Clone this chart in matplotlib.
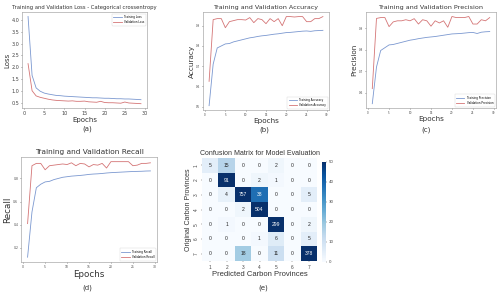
import numpy as np
import matplotlib
matplotlib.use("Agg")
import matplotlib.pyplot as plt
import seaborn as sns

# données
epochs = list(range(1, 30))

train_loss = [4.15, 1.65, 1.12, 0.98, 0.90, 0.86, 0.83, 0.80, 0.79, 0.77, 0.76, 0.75, 0.74, 0.73, 0.72,
              0.71, 0.70, 0.70, 0.69, 0.68, 0.68, 0.67, 0.66, 0.66, 0.65, 0.65, 0.64, 0.63, 0.62]
val_loss = [2.15, 1.00, 0.78, 0.72, 0.68, 0.64, 0.61, 0.59, 0.58, 0.57, 0.56, 0.57, 0.55, 0.55, 0.56,
            0.53, 0.52, 0.51, 0.55, 0.50, 0.49, 0.49, 0.48, 0.47, 0.52, 0.48, 0.47, 0.46, 0.45]

train_acc = [0.505, 0.71, 0.79, 0.80, 0.81, 0.812, 0.82, 0.825, 0.83, 0.835, 0.84, 0.843, 0.847, 0.85, 0.852,
             0.855, 0.858, 0.86, 0.863, 0.866, 0.867, 0.869, 0.871, 0.873, 0.874, 0.872, 0.875, 0.876, 0.877]
val_acc = [0.625, 0.93, 0.935, 0.935, 0.89, 0.92, 0.925, 0.93, 0.93, 0.928, 0.94, 0.915, 0.935, 0.93, 0.91,
           0.935, 0.92, 0.935, 0.90, 0.945, 0.945, 0.943, 0.945, 0.945, 0.92, 0.92, 0.935, 0.935, 0.945]

train_prec = [0.55, 0.72, 0.797, 0.81, 0.823, 0.825, 0.83, 0.835, 0.84, 0.845, 0.848, 0.852, 0.855, 0.858, 0.86,
              0.862, 0.865, 0.868, 0.871, 0.874, 0.875, 0.876, 0.878, 0.88, 0.881, 0.876, 0.882, 0.884, 0.885]
val_prec = [0.62, 0.946, 0.95, 0.95, 0.908, 0.93, 0.935, 0.935, 0.94, 0.935, 0.945, 0.92, 0.94, 0.935, 0.91,
            0.935, 0.925, 0.935, 0.905, 0.955, 0.95, 0.95, 0.95, 0.955, 0.92, 0.92, 0.94, 0.935, 0.95]

train_rec = [0.12, 0.51, 0.72, 0.75, 0.77, 0.775, 0.79, 0.80, 0.81, 0.815, 0.82, 0.823, 0.826, 0.83, 0.835,
             0.838, 0.84, 0.843, 0.847, 0.85, 0.852, 0.854, 0.856, 0.858, 0.86, 0.861, 0.862, 0.864, 0.865]
val_rec = [0.41, 0.91, 0.93, 0.93, 0.875, 0.91, 0.915, 0.92, 0.925, 0.92, 0.935, 0.91, 0.93, 0.925, 0.90,
           0.92, 0.915, 0.93, 0.89, 0.945, 0.945, 0.945, 0.945, 0.945, 0.91, 0.915, 0.93, 0.93, 0.935]

classes = ["1", "2", "3", "4", "5", "6", "7"]
confusion = [
    [5, 15, 0, 0, 2, 0, 0],
    [0, 91, 0, 2, 1, 0, 0],
    [0, 4, 757, 38, 0, 0, 5],
    [0, 0, 2, 504, 0, 0, 0],
    [0, 1, 0, 0, 299, 0, 2],
    [0, 0, 0, 1, 6, 0, 5],
    [0, 0, 18, 0, 11, 0, 378],
]

cor_treino = "#7b98d0"
cor_val = "#d47576"

fig = plt.figure(figsize=(5, 2.96), dpi=100)


def curva(rect, treino, val, rotulos, titulo, ylabel, yticks, loc, fs_tick, fs_title, fs_label, fs_leg):
    ax = fig.add_axes(rect)
    ax.plot(epochs, treino, color=cor_treino, lw=0.6, label=rotulos[0])
    ax.plot(epochs, val, color=cor_val, lw=0.6, label=rotulos[1])
    ax.set_xlim(-0.5, 30.5)
    ax.set_xticks([0, 5, 10, 15, 20, 25, 30])
    if yticks is not None:
        ax.set_yticks(yticks)
    ax.tick_params(labelsize=fs_tick, length=1, width=0.4, pad=1, colors="#444444")
    for s in ax.spines.values():
        s.set_color("#aaaaaa")
        s.set_linewidth(0.5)
    ax.set_title(titulo, fontsize=fs_title, pad=2, color="#333333")
    ax.set_xlabel("Epochs", fontsize=fs_label, labelpad=1, color="#333333")
    ax.set_ylabel(ylabel, fontsize=fs_label, labelpad=1, color="#333333")
    leg = ax.legend(loc=loc, fontsize=fs_leg, frameon=True, handlelength=3, borderpad=0.5)
    leg.get_frame().set_linewidth(0.3)
    return ax


curva([0.044, 0.635, 0.25, 0.324], train_loss, val_loss, ["Training Loss", "Validation Loss"],
      "Training and Validation Loss - Categorical crossentropy", "Loss",
      [0.5, 1.0, 1.5, 2.0, 2.5, 3.0, 3.5, 4.0], "upper right", 3.5, 3.8, 5, 2)
curva([0.406, 0.628, 0.252, 0.331], train_acc, val_acc, ["Training Accuracy", "Validation Accuracy"],
      "Training and Validation Accuracy", "Accuracy", [0.5, 0.6, 0.7, 0.8, 0.9], "lower right", 2, 4.6, 5.2, 2)
curva([0.732, 0.635, 0.26, 0.324], train_prec, val_prec, ["Training Precision", "Validation Precision"],
      "Training and Validation Precision", "Precision", [0.6, 0.7, 0.8, 0.9], "lower right", 2, 4.6, 5.2, 2)
curva([0.042, 0.115, 0.272, 0.355], train_rec, val_rec, ["Training Recall", "Validation Recall"],
      "Training and Validation Recall", "Recall", [0.2, 0.4, 0.6, 0.8], "lower right", 2.2, 5.3, 6.3, 2)

# matrice de confusion
ax_cm = fig.add_axes([0.404, 0.118, 0.230, 0.348])
ax_cb = fig.add_axes([0.644, 0.115, 0.008, 0.338])
sns.heatmap(np.array(confusion), ax=ax_cm, cbar_ax=ax_cb, cmap="Blues", vmin=0, vmax=50,
            annot=True, fmt="d", annot_kws={"fontsize": 3.6, "family": "Liberation Sans"},
            xticklabels=classes, yticklabels=classes)
ax_cm.tick_params(labelsize=3.4, length=1, width=0.3, pad=1.5, colors="#444444")
for t in ax_cm.get_yticklabels():
    t.set_rotation(90)
    t.set_family("Liberation Sans")
for t in ax_cm.get_xticklabels():
    t.set_family("Liberation Sans")
ax_cm.set_title("Confusion Matrix for Model Evaluation", fontsize=5, pad=2, family="Liberation Sans", color="#333333")
ax_cm.set_xlabel("Predicted Carbon Provinces", fontsize=5.5, labelpad=1, family="Liberation Sans", color="#333333")
ax_cm.set_ylabel("Original Carbon Provinces", fontsize=5, labelpad=1, family="Liberation Sans", color="#333333")
ax_cb.tick_params(labelsize=2.8, length=1, width=0.3, pad=1, colors="#444444")
ax_cb.set_yticks([0, 10, 20, 30, 40, 50])

# légendes des sous-figures
for x, y, lab in [(87, 129, "(a)"), (264, 130, "(b)"), (426, 130, "(c)"), (87, 288, "(d)"), (263, 288, "(e)")]:
    fig.text(x / 500, 1 - y / 296, lab, ha="center", va="center", fontsize=5, color="#333333")

fig.savefig("out.png", dpi=100)
